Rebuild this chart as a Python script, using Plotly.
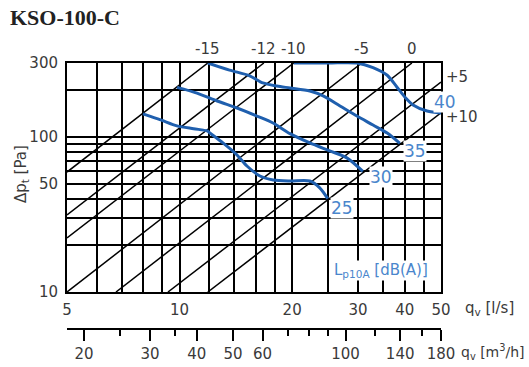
import math
import plotly.graph_objects as go

# ---------------- data ----------------
# damper-setting system lines (start / end points)
line_labels = ['-15', '-12', '-10', '-5', '0', '+5', '+10']
line_q0 = [5, 5, 5, 5, 6.76, 9.31, 11.9]
line_dp0 = [59.4, 31.4, 22.3, 10, 10, 10, 10]
line_q1 = [11.9, 16.8, 20.2, 30.7, 41.8, 50, 50]
line_dp1 = [300, 300, 300, 300, 300, 226, 143]

# sound level curves Lp10A [dB(A)]
q_25 = [7.98, 8.9, 9.84, 10.9, 11.85, 12.05, 13.06, 14.24, 15.14, 16.4, 17.8, 19.7, 22.3, 23.7, 24.9]
dp_25 = [141, 129, 118, 113, 109.4, 106, 91.5, 76.5, 65, 56, 52.8, 52, 52, 47, 40]

q_30 = [9.84, 11.13, 12.6, 14.24, 16.1, 17.78, 19.73, 22.3, 25.2, 28.0, 30.9]
dp_30 = [209, 192, 170.6, 153.8, 136.5, 123, 105, 91.5, 81.3, 73.3, 60]

q_35 = [11.9, 13.6, 15.4, 16.7, 18.2, 19.73, 22.3, 24.2, 26.85, 29.8, 32.9, 35.9, 38.8]
dp_35 = [300, 270, 248, 223, 213, 207, 198, 184, 158.6, 136.5, 119.4, 106, 91]

q_40 = [20.2, 25.0, 29.8, 32.9, 35.9, 38.1, 40.1, 42.1, 45.9, 50]
dp_40 = [300, 300, 300, 280, 250, 210, 180, 161, 147, 143]

curves = [('25', q_25, dp_25), ('30', q_30, dp_30), ('35', q_35, dp_35), ('40', q_40, dp_40)]

# axis ticks
x_ticks = [5, 10, 20, 30, 40, 50]
x_grid_minor = [6, 7, 8, 9, 12, 14, 16, 18, 25, 35, 45]
y_ticks = [10, 50, 100, 300]
y_grid_minor = [20, 30, 40, 60, 70, 80, 90, 200]
m3h_ticks = [20, 30, 40, 50, 60, 100, 140, 180]
m3h_minor = [25, 35, 70, 80, 90, 120, 160]

# ---------------- styling ----------------
FONT = 'DejaVu Sans'
GRAY = '#3a3a3a'
BLUE_LINE = '#1f5fae'
BLUE_TEXT = '#4a86cc'

fig = go.Figure()

for lab, a, b, c, d in zip(line_labels, line_q0, line_dp0, line_q1, line_dp1):
    fig.add_trace(go.Scatter(x=[a, c], y=[b, d], mode='lines',
                             line=dict(color='black', width=1.5),
                             hoverinfo='skip', showlegend=False))

for lab, q, dp in curves:
    fig.add_trace(go.Scatter(x=q, y=dp, mode='lines',
                             line=dict(color=BLUE_LINE, width=3, shape='spline', smoothing=0.8),
                             cliponaxis=False, hoverinfo='skip', showlegend=False))

# dummy trace for the secondary m3/h axis
fig.add_trace(go.Scatter(x=[18, 180], y=[10, 10], xaxis='x2', yaxis='y', mode='lines',
                         line=dict(width=0), hoverinfo='skip', showlegend=False))

annotations = []
# line labels
for i, lab in enumerate(line_labels):
    if line_dp1[i] >= 300:
        annotations.append(dict(x=math.log10(line_q1[i]), y=math.log10(line_dp1[i]),
                                xref='x', yref='y', text=lab, showarrow=False,
                                xanchor='center', yanchor='middle', yshift=14,
                                font=dict(family=FONT, size=15, color=GRAY)))
    else:
        annotations.append(dict(x=math.log10(line_q1[i]), y=math.log10(line_dp1[i]),
                                xref='x', yref='y', text=lab, showarrow=False,
                                xanchor='left', yanchor='middle', xshift=3,
                                yshift=5 if lab == '+5' else -4,
                                font=dict(family=FONT, size=15, color=GRAY)))

# sound level labels at curve ends
shifts = {'25': (14, -9), '30': (18, -6), '35': (15, -8), '40': (4, 11)}
for lab, q, dp in curves:
    xs, ys = shifts[lab]
    annotations.append(dict(x=math.log10(q[-1]), y=math.log10(dp[-1]), xref='x', yref='y',
                            text=lab, showarrow=False, xanchor='center', yanchor='middle',
                            xshift=xs, yshift=ys, bgcolor='white', borderpad=0,
                            font=dict(family=FONT, size=17, color=BLUE_TEXT)))

annotations.append(dict(x=0.711, y=0.2445, xref='paper', yref='paper',
                        text='L<sub>p10A</sub> [dB(A)]', showarrow=False,
                        xanchor='left', yanchor='middle', bgcolor='white', borderpad=0,
                        font=dict(family=FONT, size=15, color=BLUE_TEXT)))

annotations.append(dict(x=1.059, y=0.1058, xref='paper', yref='paper',
                        text='q<sub>v</sub> [l/s]', showarrow=False,
                        xanchor='left', yanchor='middle',
                        font=dict(family=FONT, size=15, color=GRAY)))
annotations.append(dict(x=1.048, y=-0.0547, xref='paper', yref='paper',
                        text='q<sub>v</sub> [m<sup>3</sup>/h]', showarrow=False,
                        xanchor='left', yanchor='middle',
                        font=dict(family=FONT, size=14, color=GRAY)))
annotations.append(dict(x=-0.12, y=0.595, xref='paper', yref='paper',
                        text='Δp<sub>t</sub> [Pa]', showarrow=False, textangle=-90,
                        xanchor='center', yanchor='middle',
                        font=dict(family=FONT, size=15, color=GRAY)))

fig.update_layout(
    width=529, height=367, autosize=False,
    margin=dict(l=67, r=88, t=63, b=30, autoexpand=False),
    paper_bgcolor='white', plot_bgcolor='white',
    showlegend=False,
    title=dict(text='<b>KSO-100-C</b>', x=10 / 529, xanchor='left', xref='container',
               y=1 - 17 / 367, yanchor='middle', yref='container', automargin=False,
               font=dict(family='Liberation Serif', size=22, color='#222222')),
    xaxis=dict(type='log', range=[math.log10(5), math.log10(50)], domain=[0, 1],
               tickmode='array', tickvals=x_ticks, ticktext=[str(v) for v in x_ticks],
               ticks='', showgrid=True, gridcolor='black', gridwidth=1.5,
               minor=dict(tickmode='array', tickvals=x_grid_minor, showgrid=True,
                          gridcolor='black', gridwidth=1.5, ticks=''),
               showline=True, mirror=True, linecolor='black', linewidth=2,
               layer='below traces', zeroline=False, ticklabelstandoff=3, automargin=False,
               tickfont=dict(family=FONT, size=15, color=GRAY)),
    yaxis=dict(type='log', range=[1, math.log10(300)], domain=[0.1642, 1],
               tickmode='array', tickvals=y_ticks, ticktext=[str(v) for v in y_ticks],
               ticks='', showgrid=True, gridcolor='black', gridwidth=1.5,
               minor=dict(tickmode='array', tickvals=y_grid_minor, showgrid=True,
                          gridcolor='black', gridwidth=1.5, ticks=''),
               showline=True, mirror=True, linecolor='black', linewidth=2,
               layer='below traces', zeroline=False, ticklabelstandoff=4, automargin=False,
               tickfont=dict(family=FONT, size=15, color=GRAY)),
    xaxis2=dict(type='log', range=[math.log10(18), math.log10(180)],
                overlaying='x', anchor='free', position=0.0292, side='bottom',
                tickmode='array', tickvals=m3h_ticks, ticktext=[str(v) for v in m3h_ticks],
                ticks='outside', ticklen=11, tickwidth=1.5, tickcolor='black',
                minor=dict(tickmode='array', tickvals=m3h_minor, ticks='outside',
                           ticklen=6, tickwidth=1.5, tickcolor='black', showgrid=False),
                showgrid=False, showline=True, linecolor='black', linewidth=1.5,
                zeroline=False, automargin=False,
                tickfont=dict(family=FONT, size=15, color=GRAY)),
    annotations=annotations,
)

fig.write_html('out.html', config={'displayModeBar': False, 'responsive': False},
               post_script="document.body.style.margin='0';")
